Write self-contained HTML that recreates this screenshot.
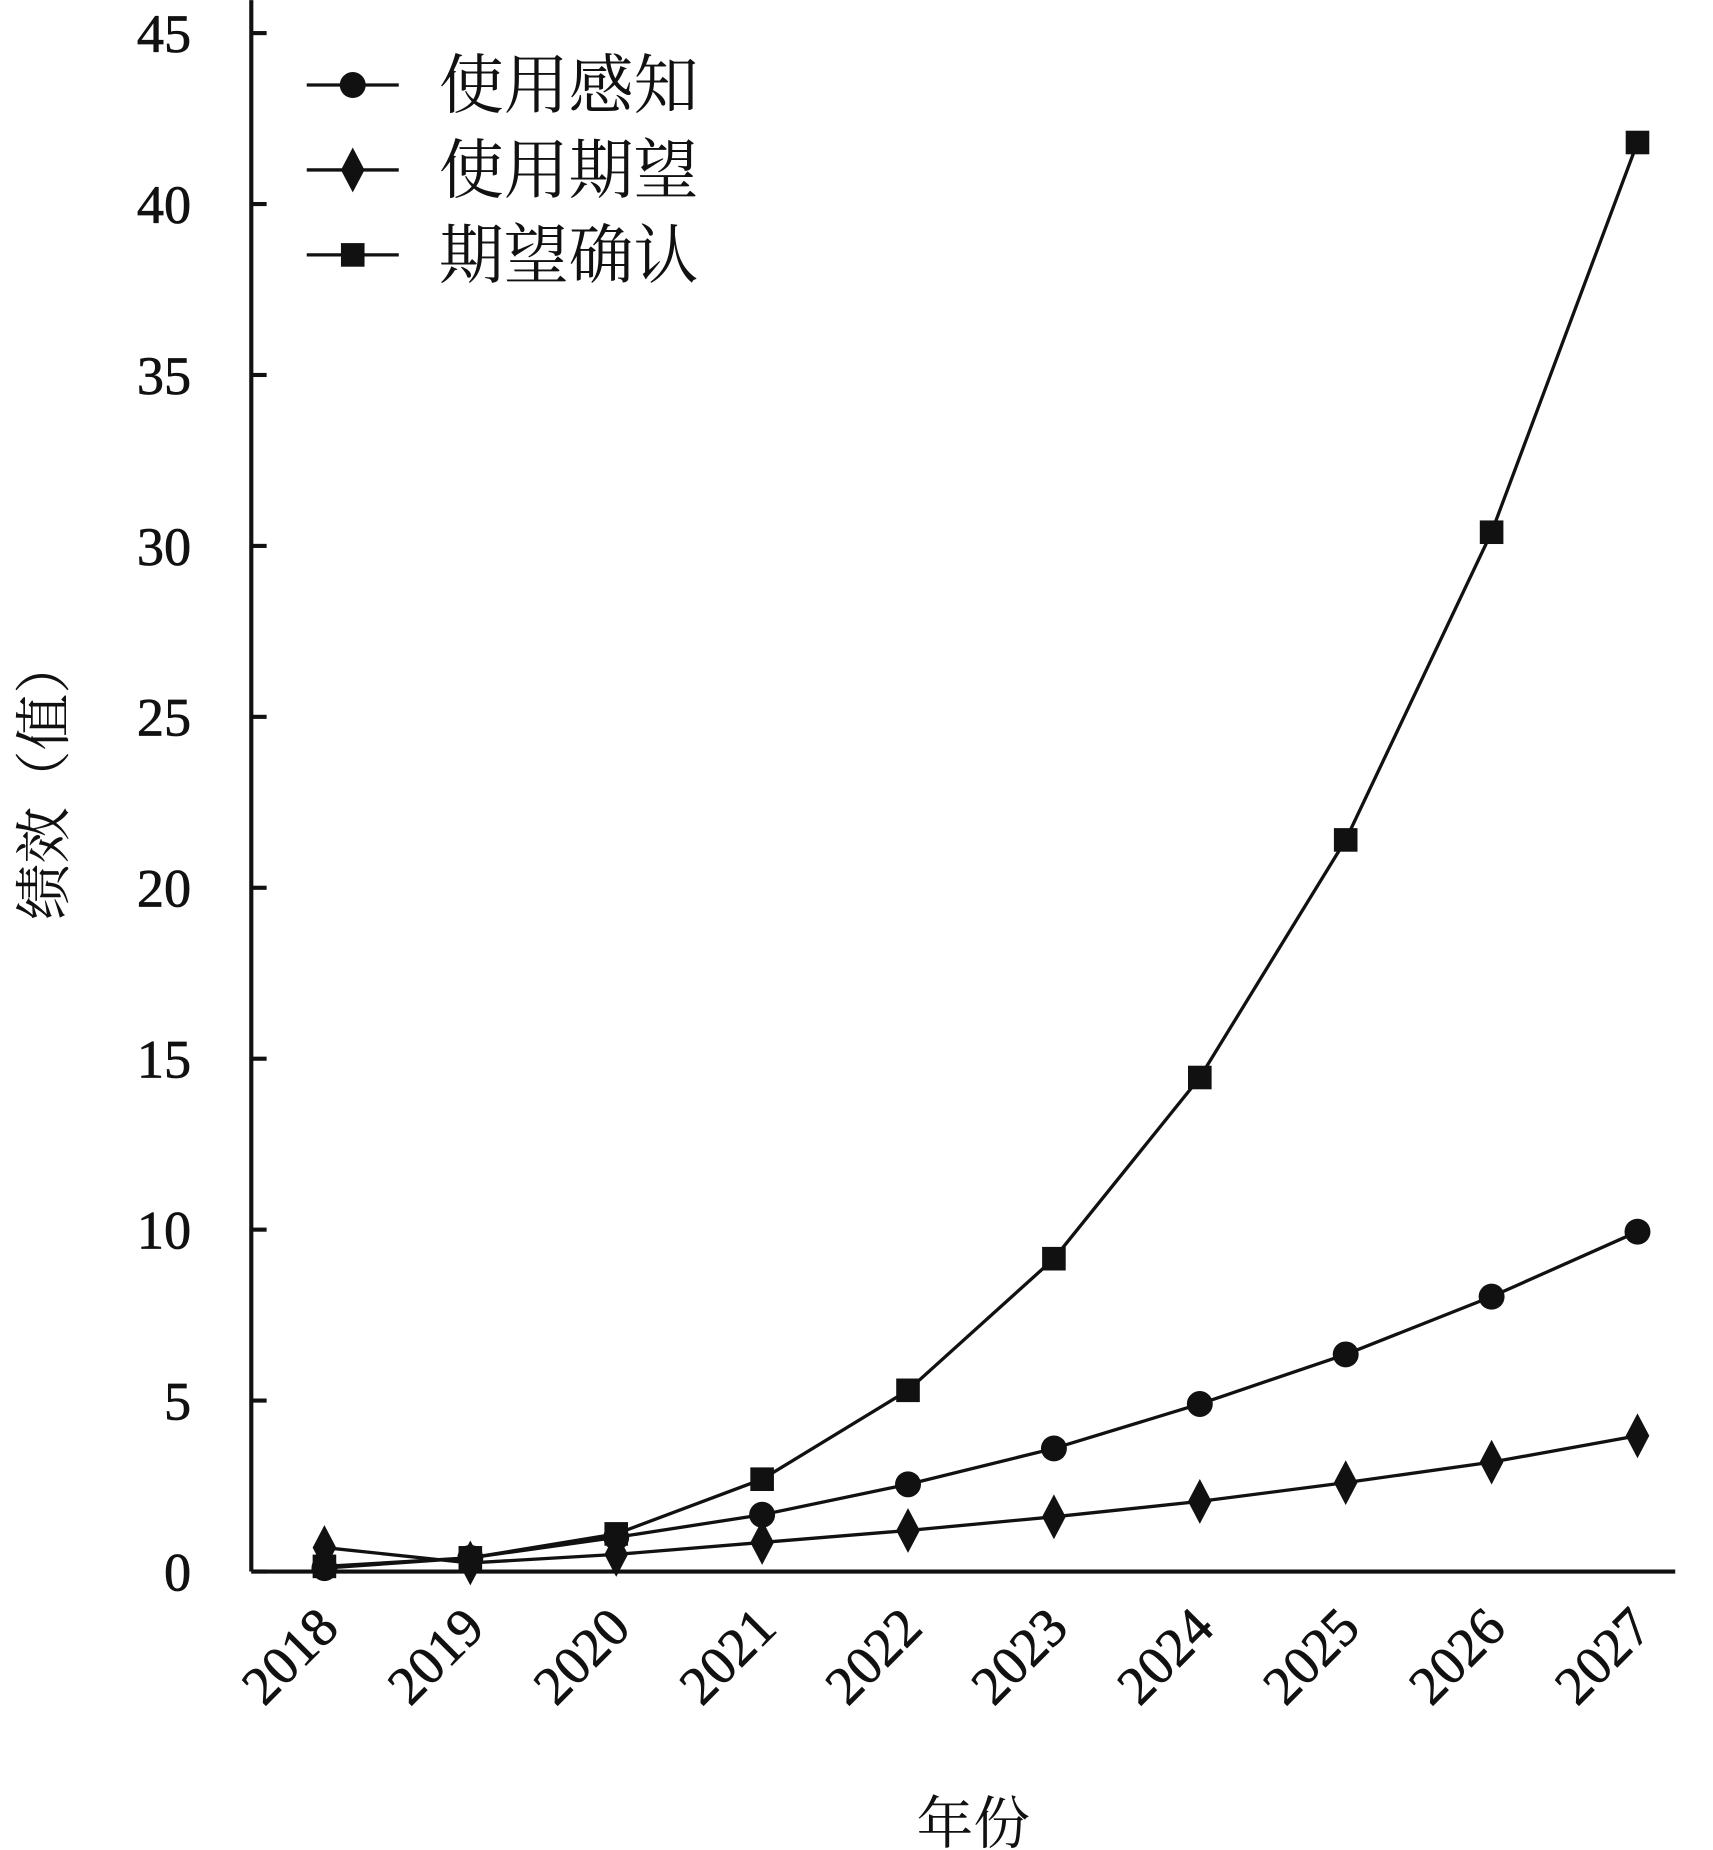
<!DOCTYPE html>
<html><head><meta charset="utf-8"><style>
html,body{margin:0;padding:0;background:#fff}
svg{display:block}
text{font-family:"Liberation Serif","Noto Serif CJK SC",serif;fill:#111}
</style></head><body>
<svg width="1713" height="1850" viewBox="0 0 1452 1568" xmlns="http://www.w3.org/2000/svg">
<g id="g"></g>
</svg>
<script>
const years=["2018","2019","2020","2021","2022","2023","2024","2025","2026","2027"];
const perceived=[0.1,0.4,1.0,1.66,2.55,3.6,4.9,6.35,8.04,9.94];
const expected=[0.7,0.25,0.5,0.85,1.2,1.6,2.05,2.6,3.2,3.97];
const confirm=[0.15,0.4,1.1,2.7,5.3,9.15,14.45,21.4,30.4,41.8];
const yTicks=[0,5,10,15,20,25,30,35,40,45];
const NS="http://www.w3.org/2000/svg";
const g=document.getElementById('g');
const X0=213,Y0=1332,Ytop=28;
const x=i=>275+i*(1388-275)/9;
const y=v=>Y0-(v/45)*(Y0-Ytop);
function el(t,a,txt){const e=document.createElementNS(NS,t);for(const k in a)e.setAttribute(k,a[k]);if(txt!==undefined)e.textContent=txt;g.appendChild(e);return e;}
let e=el('line',{x1:X0,y1:0,x2:X0,y2:Y0,stroke:'#111','stroke-width':3.5});

e=el('line',{x1:X0,y1:Y0,x2:1420,y2:Y0,stroke:'#111','stroke-width':3.5});

yTicks.forEach(v=>{
 let t=el('line',{x1:X0,y1:y(v),x2:X0+13,y2:y(v),stroke:'#111','stroke-width':3.5});
 
 let l=el('text',{x:162,y:y(v)+16,'text-anchor':'end','font-size':46,'stroke':'#111','stroke-width':0.6},String(v));
 
});
years.forEach((yr,i)=>{
 let l=el('text',{x:0,y:0,'text-anchor':'end','font-size':46,'stroke':'#111','stroke-width':0.6,transform:`translate(${x(i)+14},${Y0+50}) rotate(-45)`},yr);
 
});
e=el('text',{x:825,y:1562,'text-anchor':'middle','font-size':48},'年份');

e=el('text',{x:0,y:0,'text-anchor':'middle','font-size':48,transform:'translate(54,660) rotate(-90)'},'绩效（值）');

function marker(type,cx,cy,name){
 let m;
 if(type==='c')m=el('circle',{cx,cy,r:11,fill:'#111'});
 else if(type==='s')m=el('rect',{x:cx-10,y:cy-10,width:20,height:20,fill:'#111'});
 else m=el('polygon',{points:`${cx},${cy-19} ${cx+10},${cy} ${cx},${cy+19} ${cx-10},${cy}`,fill:'#111'});
 
}
function series(arr,type,name){
 let p=el('polyline',{points:arr.map((v,i)=>x(i)+','+y(v)).join(' '),fill:'none',stroke:'#111','stroke-width':2.8});
 
 arr.forEach((v,i)=>marker(type,x(i),y(v),name+'-point'));
}
series(confirm,'s','expectation-confirmation');
series(perceived,'c','perceived-usefulness');
series(expected,'d','usage-expectation');
const leg=[['使用感知','c'],['使用期望','d'],['期望确认','s']];
leg.forEach((L,i)=>{
 const ly=72+i*72;
 let ln=el('line',{x1:260,y1:ly,x2:338,y2:ly,stroke:'#111','stroke-width':2.8});
 
 marker(L[1],299,ly,'legend-marker');
 let t=el('text',{x:372,y:ly+19,'font-size':55},L[0]);
 
});
</script>
</body></html>
